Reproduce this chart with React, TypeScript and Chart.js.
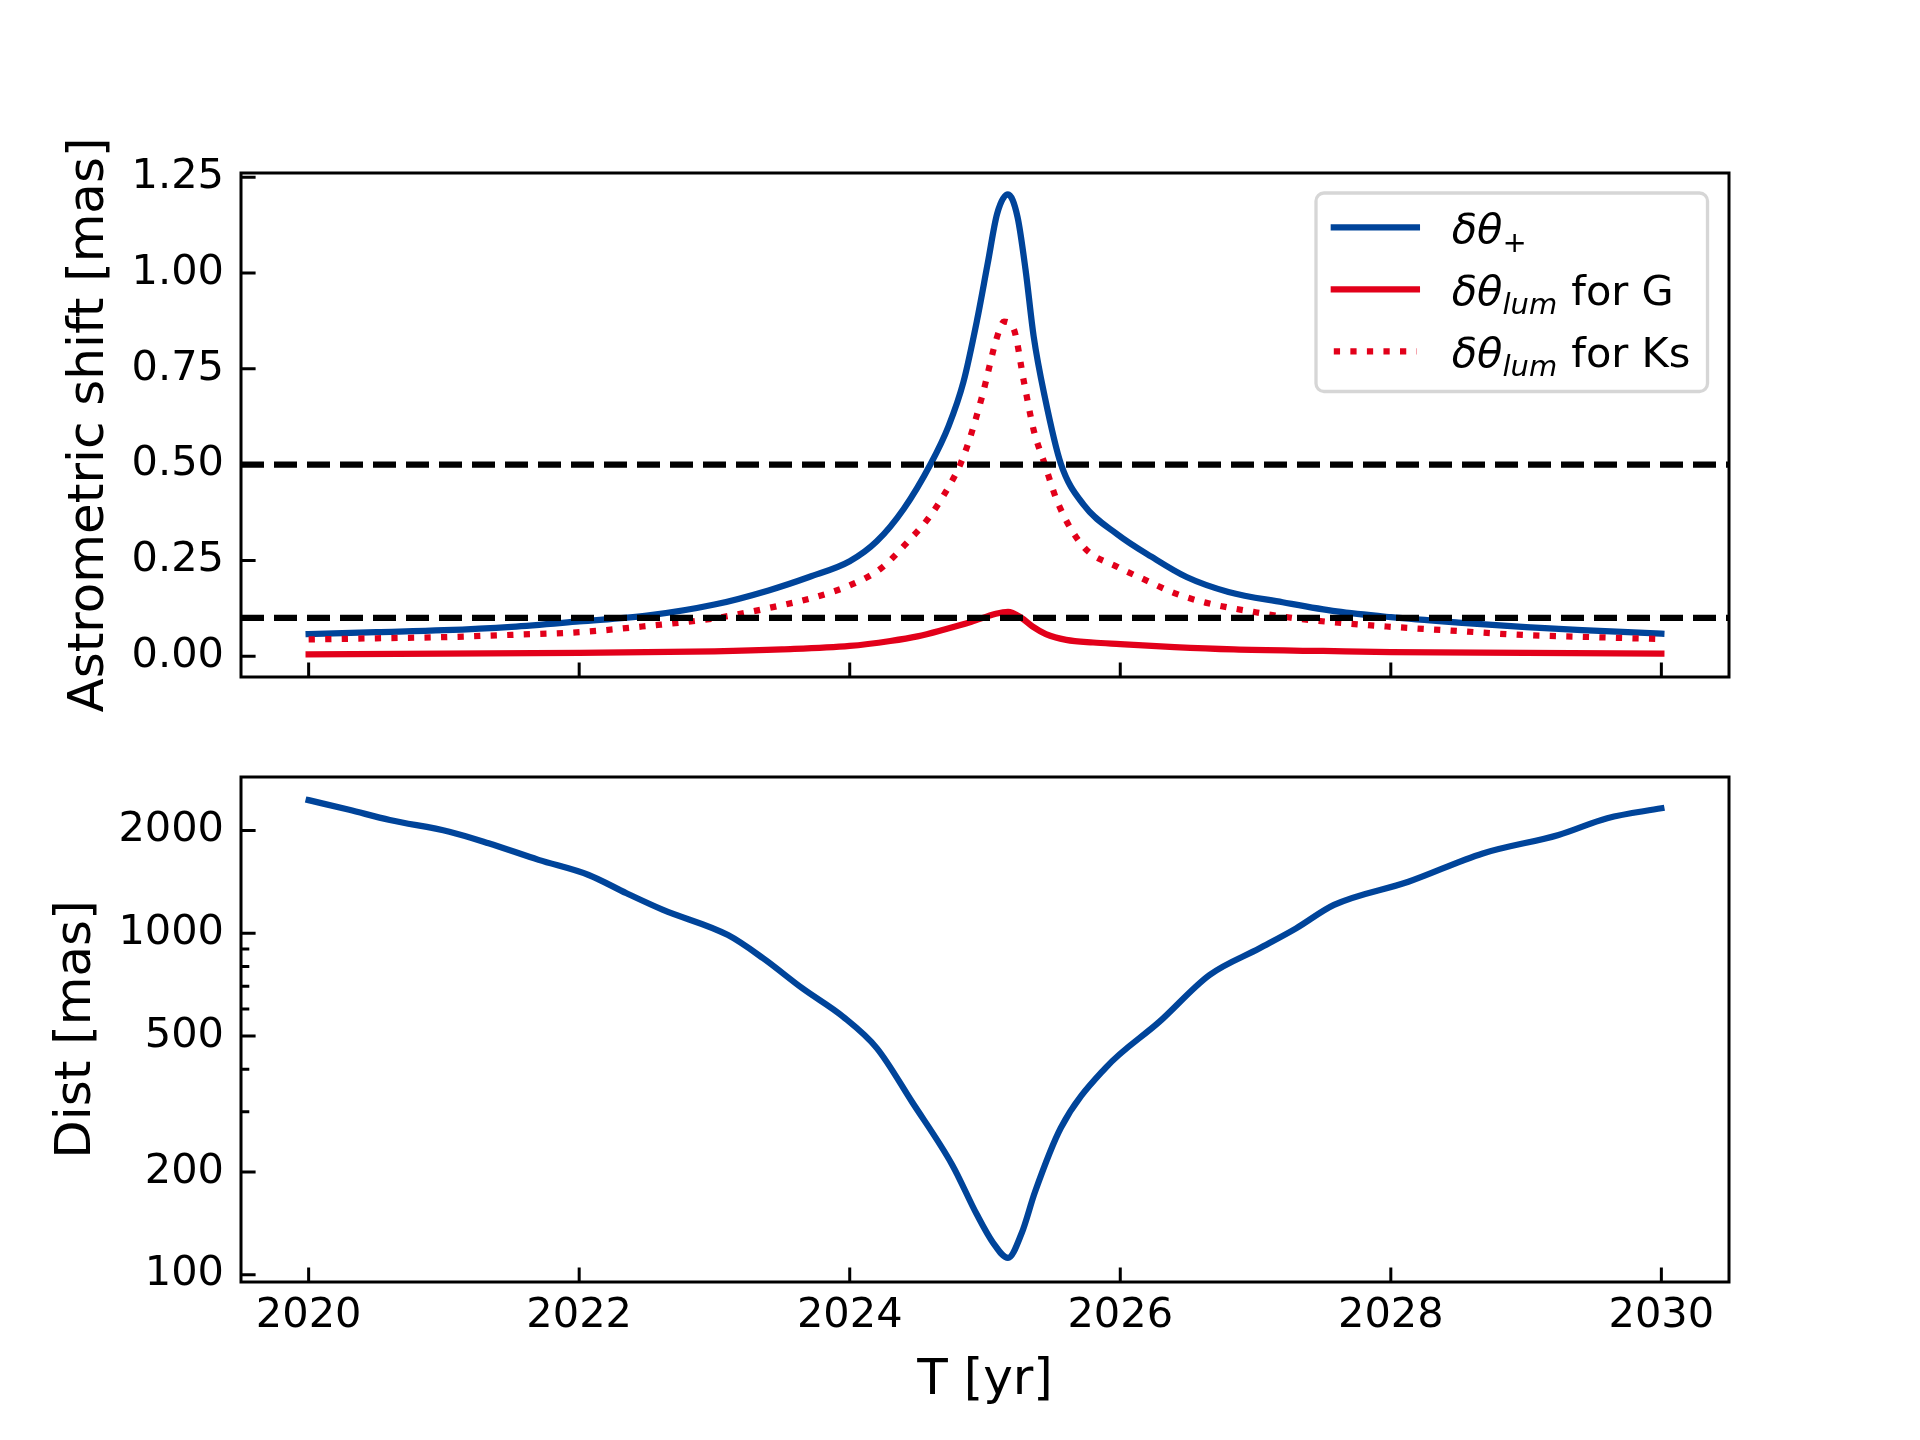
import React, { useEffect, useRef } from "react";
import { Chart, registerables } from "chart.js";

Chart.register(...registerables);

const BLUE = "#00449a";
const RED = "#e2001a";
const FONT = "DejaVu Sans";

// astrometric shift delta-theta-plus [mas]
const plusYears = [2020.0, 2020.5, 2021.0, 2021.5, 2022.0, 2022.5, 2023.0, 2023.4, 2023.7, 2024.0, 2024.2, 2024.4, 2024.6, 2024.73, 2024.84, 2024.94, 2025.02, 2025.09, 2025.17, 2025.24, 2025.3, 2025.36, 2025.44, 2025.56, 2025.73, 2025.98, 2026.23, 2026.49, 2026.8, 2027.2, 2027.6, 2028.0, 2028.5, 2029.0, 2029.5, 2030.0];
const plusShift = [0.058, 0.063, 0.068, 0.077, 0.091, 0.106, 0.135, 0.172, 0.207, 0.248, 0.3, 0.385, 0.503, 0.6, 0.715, 0.875, 1.025, 1.155, 1.205, 1.147, 1.008, 0.834, 0.68, 0.503, 0.395, 0.318, 0.26, 0.207, 0.168, 0.141, 0.117, 0.102, 0.088, 0.076, 0.067, 0.059];

// luminous shift for Ks
const ksYears = [2020.0, 2020.5, 2021.0, 2021.5, 2022.0, 2022.5, 2023.0, 2023.44, 2023.75, 2024.0, 2024.23, 2024.44, 2024.59, 2024.76, 2024.82, 2024.88, 2024.98, 2025.09, 2025.14, 2025.21, 2025.29, 2025.36, 2025.44, 2025.54, 2025.73, 2025.98, 2026.18, 2026.4, 2026.63, 2027.0, 2027.32, 2027.7, 2028.0, 2028.5, 2028.9, 2029.5, 2030.0];
const ksShift = [0.044, 0.047, 0.05, 0.056, 0.063, 0.079, 0.099, 0.129, 0.155, 0.185, 0.229, 0.303, 0.364, 0.46, 0.503, 0.56, 0.68, 0.834, 0.873, 0.856, 0.712, 0.59, 0.503, 0.399, 0.285, 0.233, 0.2, 0.165, 0.14, 0.115, 0.098, 0.085, 0.077, 0.066, 0.057, 0.05, 0.045];

// luminous shift for G
const gYears = [2020, 2021, 2022, 2023, 2023.5, 2024, 2024.3, 2024.5, 2024.7, 2024.9, 2025.08, 2025.17, 2025.27, 2025.35, 2025.45, 2025.6, 2025.8, 2026, 2026.4, 2026.84, 2027.5, 2028, 2029, 2030];
const gShift = [0.005, 0.007, 0.009, 0.013, 0.018, 0.027, 0.04, 0.052, 0.07, 0.09, 0.111, 0.116, 0.1, 0.078, 0.058, 0.043, 0.036, 0.032, 0.024, 0.018, 0.014, 0.011, 0.009, 0.007];

// lens-source distance [mas]
const distYears = [2020.0, 2020.3, 2020.6, 2021.04, 2021.33, 2021.7, 2022.07, 2022.35, 2022.62, 2023.1, 2023.36, 2023.65, 2023.95, 2024.2, 2024.46, 2024.76, 2024.94, 2025.06, 2025.17, 2025.27, 2025.37, 2025.56, 2025.89, 2026.29, 2026.66, 2027.03, 2027.3, 2027.58, 2028.13, 2028.68, 2029.24, 2029.6, 2030.0];
const distValues = [2455, 2300, 2148, 1985, 1836, 1641, 1482, 1310, 1171, 988, 845, 690, 570, 461, 321, 209, 150, 124, 112, 132, 175, 269, 403, 551, 755, 904, 1034, 1211, 1416, 1714, 1942, 2174, 2324];

const thresholds = [0.1, 0.5];
const yearRange = [2019.5, 2030.5];
const yearTicks = [2020, 2022, 2024, 2026, 2028, 2030];
const shiftRange = [-0.054, 1.261];
const shiftTicks = [0, 0.25, 0.5, 0.75, 1.0, 1.25];
const distRange = [95.2, 2870];
const distTicks = [100, 200, 500, 1000, 2000];
const distMinorTicks = [300, 400, 600, 700, 800, 900];

type Part = { text: string; italic?: boolean; sub?: boolean };
const legendEntries: { label: string; parts: Part[] }[] = [
  { label: "plus", parts: [{ text: "δθ", italic: true }, { text: "+", sub: true }] },
  { label: "G", parts: [{ text: "δθ", italic: true }, { text: "lum", italic: true, sub: true }, { text: " for G" }] },
  { label: "Ks", parts: [{ text: "δθ", italic: true }, { text: "lum", italic: true, sub: true }, { text: " for Ks" }] },
];

const pts = (xs: number[], ys: number[]) => xs.map((x, i) => ({ x, y: ys[i] }));

// matplotlib-like inward ticks and full frame
const axisFrame = {
  id: "axisFrame",
  afterDatasetsDraw(chart: any, _args: any, opts: any) {
    const { ctx, chartArea: a, scales } = chart;
    ctx.save();
    ctx.strokeStyle = "#000";
    ctx.lineWidth = 3;
    ctx.lineCap = "butt";
    ctx.setLineDash([]);
    ctx.beginPath();
    for (const v of opts.xTicks) {
      const px = scales.x.getPixelForValue(v);
      ctx.moveTo(px, a.bottom);
      ctx.lineTo(px, a.bottom - 14.6);
    }
    for (const v of opts.yTicks) {
      const py = scales.y.getPixelForValue(v);
      ctx.moveTo(a.left, py);
      ctx.lineTo(a.left + 14.6, py);
    }
    for (const v of opts.yMinor || []) {
      const py = scales.y.getPixelForValue(v);
      ctx.moveTo(a.left, py);
      ctx.lineTo(a.left + 8.3, py);
    }
    ctx.stroke();
    ctx.strokeRect(a.left, a.top, a.right - a.left, a.bottom - a.top);
    ctx.restore();
  },
};

// legend with mathtext-style subscripts
const mathLegend = {
  id: "mathLegend",
  afterDraw(chart: any) {
    const { ctx, chartArea: a } = chart;
    const w = 391.5;
    const h = 198.5;
    const x0 = a.right - 21.5 - w;
    const y0 = a.top + 20;
    ctx.save();
    ctx.fillStyle = "rgba(255,255,255,0.8)";
    ctx.strokeStyle = "rgba(204,204,204,0.8)";
    ctx.lineWidth = 3.3;
    ctx.setLineDash([]);
    ctx.beginPath();
    ctx.roundRect(x0, y0, w, h, 8);
    ctx.fill();
    ctx.stroke();
    legendEntries.forEach((entry, i) => {
      const ds = chart.data.datasets.find((d: any) => d.label === entry.label);
      const yLine = y0 + 34.4 + i * 62;
      ctx.strokeStyle = ds.borderColor;
      ctx.lineWidth = ds.borderWidth;
      ctx.setLineDash(ds.borderDash || []);
      ctx.lineCap = ds.borderCapStyle || "butt";
      ctx.beginPath();
      ctx.moveTo(x0 + 17.8, yLine);
      ctx.lineTo(x0 + 100.9, yLine);
      ctx.stroke();
      ctx.setLineDash([]);
      let x = x0 + 135.7;
      const base = yLine + 15.6;
      ctx.fillStyle = "#000";
      ctx.textBaseline = "alphabetic";
      ctx.textAlign = "left";
      for (const p of entry.parts) {
        ctx.font = `${p.italic ? "italic " : ""}${p.sub ? 29 : 41.5}px '${FONT}'`;
        ctx.fillText(p.text, x, base + (p.sub ? 8.5 : 0));
        x += ctx.measureText(p.text).width + (p.sub ? 1 : 0);
      }
    });
    ctx.restore();
  },
};

const tickFont = { family: FONT, size: 41.5 };
const titleFont = { family: FONT, size: 50 };

const App: React.FC = () => {
  const topRef = useRef<HTMLCanvasElement>(null);
  const bottomRef = useRef<HTMLCanvasElement>(null);

  useEffect(() => {
    if (!topRef.current || !bottomRef.current) return;

    const common = {
      responsive: false,
      animation: false as const,
      devicePixelRatio: 1,
      events: [],
      elements: { point: { radius: 0 } },
    };

    const topChart = new Chart(topRef.current, {
      type: "line",
      data: {
        datasets: [
          ...thresholds.map((t, i) => ({
            label: "thr" + i,
            data: pts(yearRange, [t, t]),
            borderColor: "#000",
            borderWidth: 6.25,
            borderDash: [23, 10],
            borderCapStyle: "butt" as const,
          })),
          {
            label: "Ks",
            data: pts(ksYears, ksShift),
            borderColor: RED,
            borderWidth: 6.25,
            borderDash: [6.25, 10.3],
            borderCapStyle: "butt" as const,
            cubicInterpolationMode: "monotone" as const,
          },
          {
            label: "G",
            data: pts(gYears, gShift),
            borderColor: RED,
            borderWidth: 6.25,
            borderCapStyle: "square" as const,
            borderJoinStyle: "round" as const,
            cubicInterpolationMode: "monotone" as const,
          },
          {
            label: "plus",
            data: pts(plusYears, plusShift),
            borderColor: BLUE,
            borderWidth: 6.25,
            borderCapStyle: "square" as const,
            borderJoinStyle: "round" as const,
            cubicInterpolationMode: "monotone" as const,
          },
        ],
      },
      options: {
        ...common,
        layout: { padding: { left: 0, top: 173, right: 191, bottom: 0 } },
        plugins: {
          legend: { display: false },
          tooltip: { enabled: false },
          axisFrame: { xTicks: yearTicks, yTicks: shiftTicks },
        } as any,
        scales: {
          x: {
            type: "linear",
            min: yearRange[0],
            max: yearRange[1],
            grid: { display: false, drawTicks: false },
            border: { display: false },
            ticks: { display: false },
            afterBuildTicks: (s: any) => {
              s.ticks = yearTicks.map((v) => ({ value: v }));
            },
            afterFit: (s: any) => {
              s.height = 763;
            },
          },
          y: {
            type: "linear",
            min: shiftRange[0],
            max: shiftRange[1],
            grid: { display: false, drawTicks: false },
            border: { display: false },
            ticks: {
              color: "#000",
              font: tickFont,
              padding: 17,
              callback: (v: any) => Number(v).toFixed(2),
            },
            afterBuildTicks: (s: any) => {
              s.ticks = shiftTicks.map((v) => ({ value: v }));
            },
            afterFit: (s: any) => {
              s.width = 241;
            },
            title: {
              display: true,
              text: "Astrometric shift [mas]",
              color: "#000",
              font: titleFont,
              padding: { top: 60, bottom: 0 },
            },
          },
        },
      },
      plugins: [axisFrame, mathLegend],
    });

    const bottomChart = new Chart(bottomRef.current, {
      type: "line",
      data: {
        datasets: [
          {
            label: "dist",
            data: pts(distYears, distValues),
            borderColor: BLUE,
            borderWidth: 6.25,
            borderCapStyle: "square" as const,
            borderJoinStyle: "round" as const,
            cubicInterpolationMode: "monotone" as const,
          },
        ],
      },
      options: {
        ...common,
        layout: { padding: { left: 0, top: 777, right: 191, bottom: 0 } },
        plugins: {
          legend: { display: false },
          tooltip: { enabled: false },
          axisFrame: { xTicks: yearTicks, yTicks: distTicks, yMinor: distMinorTicks },
        } as any,
        scales: {
          x: {
            type: "linear",
            min: yearRange[0],
            max: yearRange[1],
            grid: { display: false, drawTicks: false },
            border: { display: false },
            ticks: {
              color: "#000",
              font: tickFont,
              padding: 9,
              maxRotation: 0,
              callback: (v: any) => String(v),
            },
            afterBuildTicks: (s: any) => {
              s.ticks = yearTicks.map((v) => ({ value: v }));
            },
            afterFit: (s: any) => {
              s.height = 158;
            },
            title: {
              display: true,
              text: "T [yr]",
              color: "#000",
              font: titleFont,
              padding: { top: 0, bottom: 29 },
            },
          },
          y: {
            type: "logarithmic",
            min: distRange[0],
            max: distRange[1],
            grid: { display: false, drawTicks: false },
            border: { display: false },
            ticks: {
              color: "#000",
              font: tickFont,
              padding: 17,
              callback: (v: any) => String(v),
            },
            afterBuildTicks: (s: any) => {
              s.ticks = distTicks.map((v) => ({ value: v }));
            },
            afterFit: (s: any) => {
              s.width = 241;
            },
            title: {
              display: true,
              text: "Dist [mas]",
              color: "#000",
              font: titleFont,
              padding: { top: 47, bottom: 0 },
            },
          },
        },
      },
      plugins: [axisFrame],
    });

    return () => {
      topChart.destroy();
      bottomChart.destroy();
    };
  }, []);

  const canvasStyle: React.CSSProperties = { position: "absolute", left: 0, top: 0, width: 1920, height: 1440 };

  return (
    <div style={{ position: "absolute", left: 0, top: 0, width: 1920, height: 1440, background: "#fff" }}>
      <canvas ref={bottomRef} width={1920} height={1440} style={canvasStyle} />
      <canvas ref={topRef} width={1920} height={1440} style={canvasStyle} />
    </div>
  );
};

export default App;
